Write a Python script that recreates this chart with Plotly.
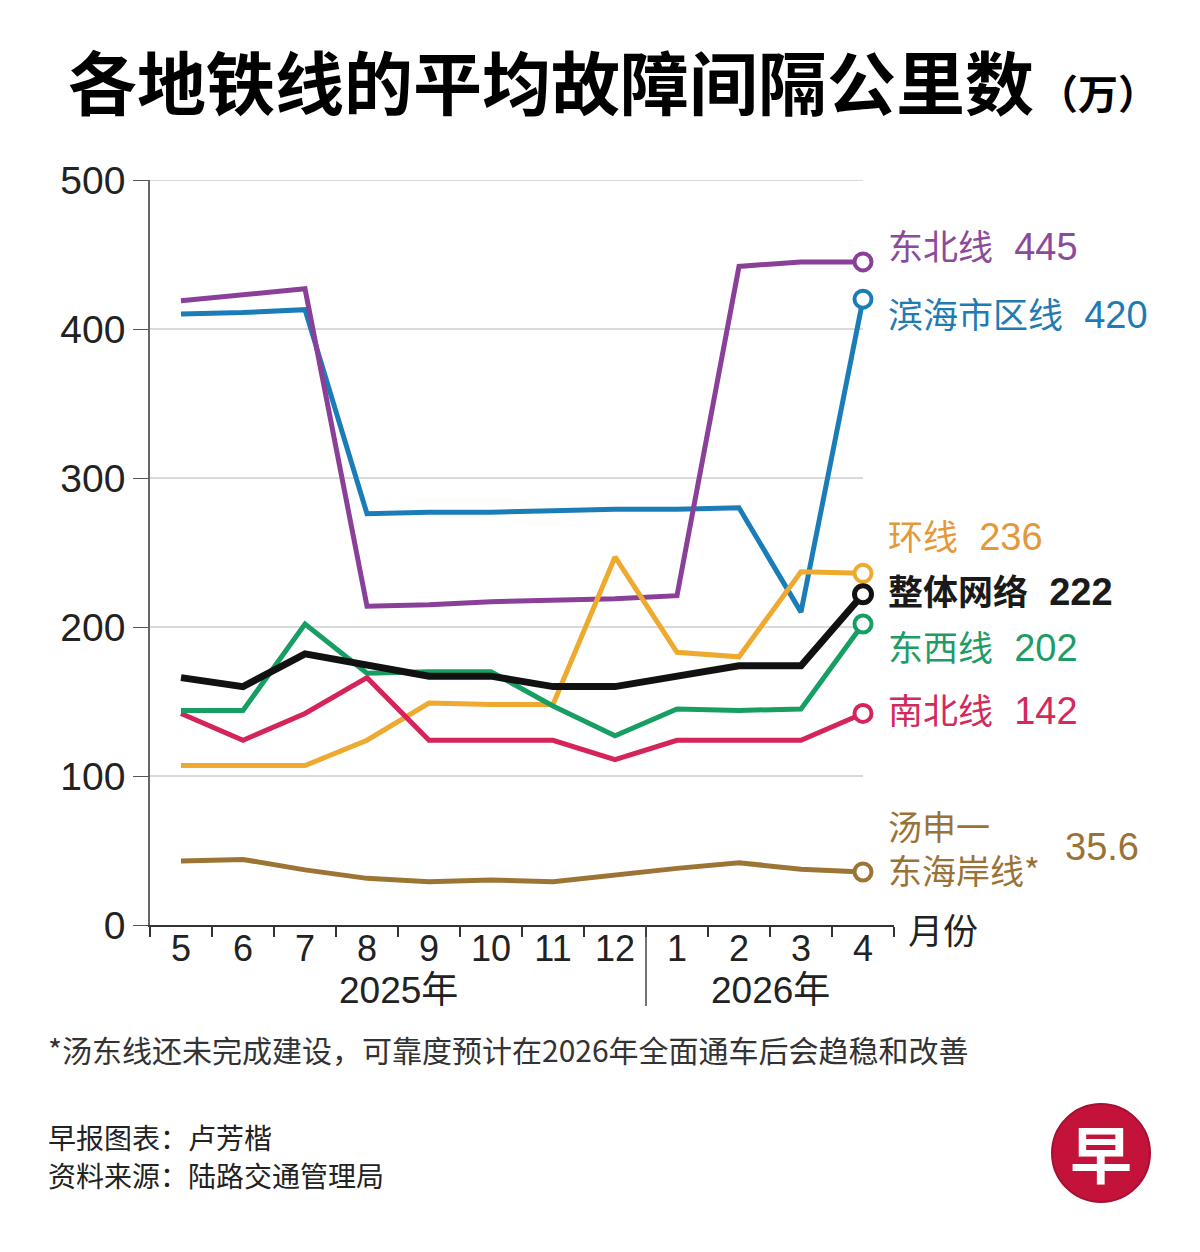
import plotly.graph_objects as go

# ---------------- data ----------------
months = ["5", "6", "7", "8", "9", "10", "11", "12", "1", "2", "3", "4"]
years = ["2025年", "2026年"]
year_spans = [(0, 7), (8, 11)]          # month index range of each year

series_names = ["滨海市区线", "东北线", "环线", "汤申一<br>东海岸线*", "南北线", "东西线", "整体网络"]
dtl = [410, 411, 413, 276, 277, 277, 278, 279, 279, 280, 210, 420]      # 滨海市区线
nel = [419, 423, 427, 214, 215, 217, 218, 219, 221, 442, 445, 445]      # 东北线
ccl = [107, 107, 107, 124, 149, 148, 148, 247, 183, 180, 237, 236]      # 环线
tel = [43, 44, 37, 31.3, 29, 30.2, 29, 33.6, 38, 41.8, 37.4, 35.6]       # 汤申—东海岸线
nsl = [142, 124, 142, 166, 124, 124, 124, 111, 124, 124, 124, 142]      # 南北线
ewl = [144, 144, 202, 169, 170, 170, 147, 127, 145, 144, 145, 202]      # 东西线
net = [166, 160, 182, 175, 167, 167, 160, 160, 167, 174, 174, 222]      # 整体网络
series_values = [dtl, nel, ccl, tel, nsl, ewl, net]

y_ticks = [0, 100, 200, 300, 400, 500]

credits = ["早报图表：卢芳楷", "资料来源：陆路交通管理局"]

# ---------------- styles ----------------
line_colors = ["#1a7db8", "#8a3f98", "#eea92f", "#9c7534", "#d5245a", "#179e62", "#111111"]
label_colors = ["#1f7bb3", "#8b4a9b", "#e3983a", "#9a7236", "#d22a5c", "#1e9c66", "#1a1a1a"]
line_widths = [5, 5, 5, 5, 5, 5, 7]
label_y_px = [315, 247, 537, 847, 711, 648, 592]
credit_y_px = [1137, 1175]

W, H = 1200, 1252
PL, PR, PT, PB = 150, 894, 180, 925     # plot area in pixels

NUM_FONT = "Liberation Sans, Arial, Noto Sans CJK SC, sans-serif"
CJK_FONT = "Noto Sans CJK SC, Liberation Sans, sans-serif"


def px_x(px):
    return (px - PL) / (PR - PL)


def px_y(py):
    return (PB - py) / (PB - PT)


fig = go.Figure()

for name, vals, col, lw in zip(series_names, series_values, line_colors, line_widths):
    fig.add_trace(go.Scatter(
        x=months, y=vals, mode="lines",
        line=dict(color=col, width=lw, shape="linear"),
        showlegend=False, hoverinfo="skip"))

for name, vals, col, lw in zip(series_names, series_values, line_colors, line_widths):
    fig.add_trace(go.Scatter(
        x=[months[-1]], y=[vals[-1]], mode="markers",
        marker=dict(symbol="circle", size=17, color="white",
                    line=dict(color=col, width=4 if lw < 7 else 5)),
        showlegend=False, hoverinfo="skip", cliponaxis=False))

shapes = []
# horizontal gridlines (stop at last month)
for v in y_ticks[1:]:
    shapes.append(dict(type="line", xref="x", yref="y", x0=-0.5, x1=len(months) - 1,
                       y0=v, y1=v, line=dict(color="#b4b4b4", width=1.2), layer="below"))
# divider between years
shapes.append(dict(type="line", xref="x", yref="paper",
                   x0=year_spans[0][1] + 0.5, x1=year_spans[0][1] + 0.5,
                   y0=0, y1=px_y(1006), line=dict(color="#444", width=1.5)))
# logo circle
shapes.append(dict(type="circle", xref="paper", yref="paper",
                   x0=px_x(1052), x1=px_x(1150), y0=px_y(1202), y1=px_y(1104),
                   fillcolor="#c4133b", line=dict(color="#a80f31", width=2)))

annotations = []
# title
annotations.append(dict(xref="paper", yref="paper", x=px_x(66), y=px_y(80),
                        xanchor="left", yanchor="middle", showarrow=False,
                        text="<b>各地铁线的平均故障间隔公里数</b>",
                        font=dict(family=CJK_FONT, size=69, color="#000", weight=900)))
annotations.append(dict(xref="paper", yref="paper", x=px_x(1036), y=px_y(92),
                        xanchor="left", yanchor="middle", showarrow=False,
                        text="<b>（万）</b>",
                        font=dict(family=CJK_FONT, size=40, color="#000")))

# series labels
for name, vals, col, ypx in zip(series_names, series_values, label_colors, label_y_px):
    bold = name == "整体网络"
    val = f"{vals[-1]:g}"
    if "<br>" in name:
        annotations.append(dict(xref="paper", yref="paper", x=px_x(886), y=px_y(ypx),
                                xanchor="left", yanchor="middle", showarrow=False, align="left",
                                text=name, font=dict(family=CJK_FONT, size=34, color=col)))
        annotations.append(dict(xref="paper", yref="paper", x=px_x(1063), y=px_y(ypx),
                                xanchor="left", yanchor="middle", showarrow=False,
                                text=val, font=dict(family=NUM_FONT, size=38, color=col)))
    else:
        txt = f"<span style='font-size:35px'>{name}</span>\u00a0 {val}"
        if bold:
            txt = f"<b>{txt}</b>"
        annotations.append(dict(xref="paper", yref="paper", x=px_x(886), y=px_y(ypx),
                                xanchor="left", yanchor="middle", showarrow=False,
                                text=txt, font=dict(family=NUM_FONT, size=38, color=col)))

# axis unit
annotations.append(dict(xref="paper", yref="paper", x=px_x(906), y=px_y(928),
                        xanchor="left", yanchor="middle", showarrow=False,
                        text="月份", font=dict(family=CJK_FONT, size=35, color="#222")))
# year labels
for yr, (a, b) in zip(years, year_spans):
    annotations.append(dict(xref="x", yref="paper", x=(a + b) / 2, y=px_y(990),
                            xanchor="center", yanchor="middle", showarrow=False,
                            text=yr, font=dict(family=NUM_FONT, size=37, color="#222")))
# footnote and credits
annotations.append(dict(xref="paper", yref="paper", x=px_x(46), y=px_y(1049),
                        xanchor="left", yanchor="middle", showarrow=False,
                        text="*汤东线还未完成建设，可靠度预计在2026年全面通车后会趋稳和改善",
                        font=dict(family=CJK_FONT, size=30, color="#333")))
for txt, ypx in zip(credits, credit_y_px):
    annotations.append(dict(xref="paper", yref="paper", x=px_x(46), y=px_y(ypx),
                            xanchor="left", yanchor="middle", showarrow=False,
                            text=txt, font=dict(family=CJK_FONT, size=28, color="#222")))
# logo character
annotations.append(dict(xref="paper", yref="paper", x=px_x(1101), y=px_y(1152),
                        xanchor="center", yanchor="middle", showarrow=False,
                        text="<b>早</b>", font=dict(family=CJK_FONT, size=62, color="white")))

fig.update_layout(
    width=W, height=H,
    margin=dict(l=PL, r=W - PR, t=PT, b=H - PB, pad=0),
    paper_bgcolor="white", plot_bgcolor="white",
    showlegend=False,
    shapes=shapes, annotations=annotations,
    xaxis=dict(type="category", categoryorder="array", categoryarray=months,
               range=[-0.5, len(months) - 0.5],
               tickson="boundaries", ticks="outside", ticklen=10, tickwidth=1.5,
               tickcolor="#333", showline=True, linecolor="#333", linewidth=1.5,
               showgrid=False, zeroline=False, ticklabelstandoff=-9,
               tickfont=dict(family=NUM_FONT, size=36, color="#222")),
    yaxis=dict(range=[0, 500], tickvals=y_ticks, ticks="outside", ticklen=15,
               tickwidth=1.3, tickcolor="#555", showline=True, linecolor="#666",
               linewidth=1.5, showgrid=False, zeroline=False,
               tickfont=dict(family=NUM_FONT, size=39, color="#222")),
)

fig.write_html("out.html", config={"displayModeBar": False},
               post_script="document.body.style.margin='0';")
